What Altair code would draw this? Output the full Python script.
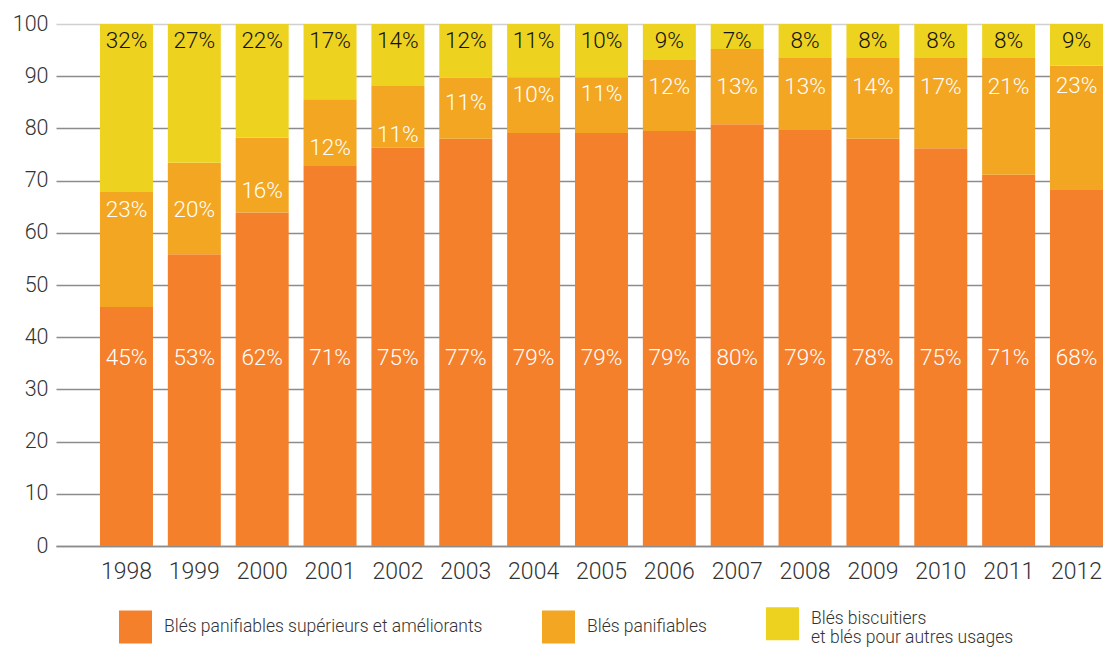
import altair as alt
import pandas as pd

years = [1998, 1999, 2000, 2001, 2002, 2003, 2004, 2005, 2006, 2007, 2008, 2009, 2010, 2011, 2012]

series = [
    "Blés panifiables supérieurs et améliorants",
    "Blés panifiables",
    "Blés biscuitiers et blés pour autres usages",
]
colors = ["#F4802C", "#F2A622", "#EDD320"]

# bar segment heights as drawn
seg_superieurs = [45.8, 55.9, 63.9, 72.8, 76.3, 78.0, 79.1, 79.1, 79.5, 80.8, 79.7, 78.0, 76.2, 71.1, 68.2]
seg_panifiables = [22.0, 17.5, 14.3, 12.8, 11.8, 11.7, 10.7, 10.7, 13.6, 14.4, 13.8, 15.5, 17.3, 22.4, 23.8]
seg_biscuitiers = [32.2, 26.6, 21.8, 14.4, 11.9, 10.3, 10.2, 10.2, 6.9, 4.8, 6.5, 6.5, 6.5, 6.5, 8.0]

# printed percentages
lbl_superieurs = [45, 53, 62, 71, 75, 77, 79, 79, 79, 80, 79, 78, 75, 71, 68]
lbl_panifiables = [23, 20, 16, 12, 11, 11, 10, 11, 12, 13, 13, 14, 17, 21, 23]
lbl_biscuitiers = [32, 27, 22, 17, 14, 12, 11, 10, 9, 7, 8, 8, 8, 8, 9]

# where the middle labels sit (value scale)
lbl_panifiables_at = [64.4, 64.4, 68.1, 76.2, 78.7, 84.9, 86.4, 86.6, 87.9, 87.9, 87.9, 88.0, 88.0, 88.0, 88.1]
lbl_superieurs_at = 36.0
lbl_biscuitiers_at = 96.8

FONT = "Roboto"

rows = []
for i, yr in enumerate(years):
    for k, vals in enumerate([seg_superieurs, seg_panifiables, seg_biscuitiers]):
        rows.append({"year": str(yr), "series": series[k], "k": k, "value": vals[i]})
bars_df = pd.DataFrame(rows)

white_rows, dark_rows = [], []
for i, yr in enumerate(years):
    white_rows.append({"year": str(yr), "txt": f"{lbl_superieurs[i]}%", "pos": lbl_superieurs_at})
    white_rows.append({"year": str(yr), "txt": f"{lbl_panifiables[i]}%", "pos": lbl_panifiables_at[i]})
    dark_rows.append({"year": str(yr), "txt": f"{lbl_biscuitiers[i]}%", "pos": lbl_biscuitiers_at})
white_df = pd.DataFrame(white_rows)
dark_df = pd.DataFrame(dark_rows)

x_enc = alt.X(
    "year:N",
    title=None,
    sort=[str(y) for y in years],
    scale=alt.Scale(paddingInner=0.219, paddingOuter=0.324, align=1, round=False),
    axis=alt.Axis(
        labelAngle=0, ticks=False, domainColor="#8c8c8c", domainWidth=1.5,
        labelFontSize=23, labelFont=FONT, labelFontWeight=300, labelColor="#333333",
        labelPadding=14,
    ),
)

y_scale = alt.Scale(domain=[0, 100], nice=False)

bars = alt.Chart(bars_df).mark_bar().encode(
    x=x_enc,
    y=alt.Y(
        "value:Q", stack="zero", title=None, scale=y_scale,
        axis=alt.Axis(
            values=list(range(0, 101, 10)), domain=False, ticks=False,
            labelFontSize=21.5, labelFont=FONT, labelFontWeight=300, labelColor="#333333",
            labelPadding=8, gridWidth=1.5,
            gridColor={"condition": {"test": "datum.value == 100", "value": "#d0d0d0"}, "value": "#8c8c8c"},
        ),
    ),
    color=alt.Color(
        "series:N",
        scale=alt.Scale(domain=series, range=colors),
        legend=alt.Legend(
            title=None, orient="none", legendX=63, legendY=583, direction="horizontal",
            symbolType="square", symbolSize=1089, symbolStrokeWidth=0, symbolOpacity=1,
            labelOffset=12, columnPadding=59, labelFontSize=17.5, labelFont=FONT,
            labelFontWeight=300, labelColor="#333333", labelLimit=600,
            labelExpr="indexof(datum.label, 'biscuitiers') >= 0 ? ['Blés biscuitiers', 'et blés pour autres usages'] : datum.label",
            labelBaseline={"expr": "indexof(datum.label, 'biscuitiers') >= 0 ? 'alphabetic' : 'middle'"},
        ),
    ),
    order=alt.Order("k:Q"),
)

white_txt = alt.Chart(white_df).mark_text(
    font=FONT, fontSize=22.5, fontWeight=300, color="#ffffff", baseline="middle", align="center"
).encode(x=alt.X("year:N", sort=[str(y) for y in years]), y=alt.Y("pos:Q", scale=y_scale), text="txt:N")

dark_txt = alt.Chart(dark_df).mark_text(
    font=FONT, fontSize=22.5, fontWeight=300, color="#111111", baseline="middle", align="center"
).encode(x=alt.X("year:N", sort=[str(y) for y in years]), y=alt.Y("pos:Q", scale=y_scale), text="txt:N")

chart = alt.layer(bars, white_txt, dark_txt).properties(
    width=1047, height=522,
    autosize=alt.AutoSizeParams(type="none"),
    padding={"left": 48, "top": 16, "right": 0, "bottom": 103},
    background="white",
).configure_view(stroke=None)

chart.save("out.html", embed_options={"renderer": "svg", "actions": False})
